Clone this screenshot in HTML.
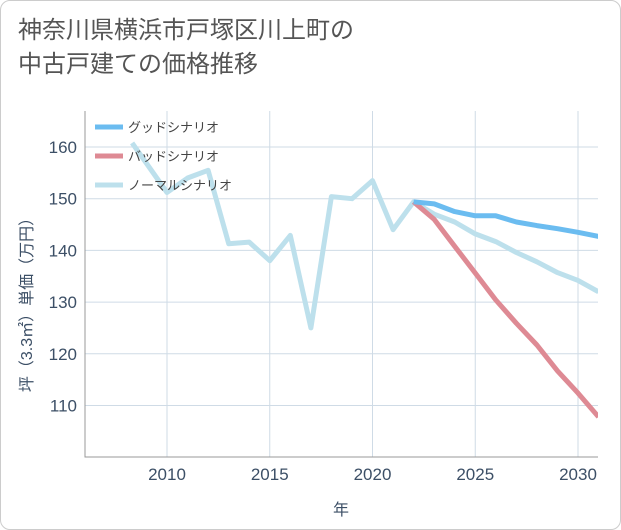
<!DOCTYPE html>
<html><head><meta charset="utf-8"><style>
body{margin:0;background:#fff;}
#wrap{position:relative;width:619px;height:528px;border:1px solid #ccc;border-radius:10px;overflow:hidden;background:#fff;font-family:"Liberation Sans","Noto Sans CJK JP",sans-serif;}
#title{position:absolute;left:17px;top:13px;font-size:24px;line-height:34px;color:#555;}
</style></head><body>
<div id="wrap">
<div id="title">神奈川県横浜市戸塚区川上町の<br>中古戸建ての価格推移</div>
<svg id="c" width="621" height="530" style="position:absolute;left:0;top:0"></svg>
</div>
<script>
const xTicks=[2010,2015,2020,2025,2030];
const yTicks=[110,120,130,140,150,160];
const normalYears=[2008.3,2010,2011,2012,2013,2014,2015,2016,2017,2018,2019,2020,2021,2022,2023,2024,2025,2026,2027,2028,2029,2030,2031];
const normalVals=[160.8,151.2,154,155.5,141.3,141.6,138,142.9,125,150.4,150,153.5,144,149.4,147,145.5,143.2,141.7,139.6,137.8,135.7,134.2,132];
const futureYears=[2022,2023,2024,2025,2026,2027,2028,2029,2030,2031];
const goodVals=[149.4,149,147.5,146.7,146.7,145.5,144.8,144.2,143.5,142.7];
const badVals=[149.4,146,140.8,135.6,130.4,125.9,121.7,116.7,112.4,107.8];
const L=84,R=597,T=110,B=456;
const X=y=>166+(y-2010)*20.55;
const Y=v=>146+(160-v)*5.17;
const svg=document.getElementById('c');const NS='http://www.w3.org/2000/svg';
function mk(t,a,p){const e=document.createElementNS(NS,t);for(const k in a)e.setAttribute(k,a[k]);(p||svg).appendChild(e);return e;}
const defs=mk('clipPath',{id:'clip'});mk('rect',{x:L,y:T,width:R-L,height:B-T},defs);
xTicks.forEach(t=>{const l=mk('line',{x1:X(t),x2:X(t),y1:T,y2:B,stroke:'#cfdbe6','stroke-width':1});
const tx=mk('text',{x:X(t),y:479,'text-anchor':'middle','font-size':17,fill:'#3c4f66'});tx.textContent=t;});
yTicks.forEach(t=>{const l=mk('line',{x1:L,x2:R,y1:Y(t),y2:Y(t),stroke:'#cfdbe6','stroke-width':1});
const tx=mk('text',{x:76,y:Y(t)+6,'text-anchor':'end','font-size':17,fill:'#3c4f66'});tx.textContent=t;});
const ax=mk('path',{d:`M${L},${T}V${B}H${R}`,fill:'none',stroke:'#999','stroke-width':1});
function line(xs,vs,col,name){const d=xs.map((x,i)=>(i?'L':'M')+X(x).toFixed(1)+','+Y(vs[i]).toFixed(1)).join('');const p=mk('path',{d,fill:'none',stroke:col,'stroke-width':5,'stroke-linejoin':'round','clip-path':'url(#clip)'});}
line(normalYears,normalVals,'#bde0ec','normal-scenario-line');
line(futureYears,badVals,'#de8a94','bad-scenario-line');
line(futureYears,goodVals,'#6bbcf0','good-scenario-line');
const lg=[['グッドシナリオ','#6bbcf0'],['バッドシナリオ','#de8a94'],['ノーマルシナリオ','#bde0ec']];
lg.forEach((e,i)=>{const y=126+i*29;const r=mk('line',{x1:94,x2:122,y1:y,y2:y,stroke:e[1],'stroke-width':5});
const t=mk('text',{x:127,y:y+5,'font-size':13,fill:'#444'});t.textContent=e[0];});
const xt=mk('text',{x:340,y:514,'text-anchor':'middle','font-size':16,fill:'#3c4f66'});xt.textContent='年';
const yt=mk('text',{x:0,y:0,'text-anchor':'middle','font-size':16,fill:'#3c4f66',transform:'translate(31,300) rotate(-90)'});yt.textContent='坪（3.3㎡）単価（万円）';
</script>
</body></html>
